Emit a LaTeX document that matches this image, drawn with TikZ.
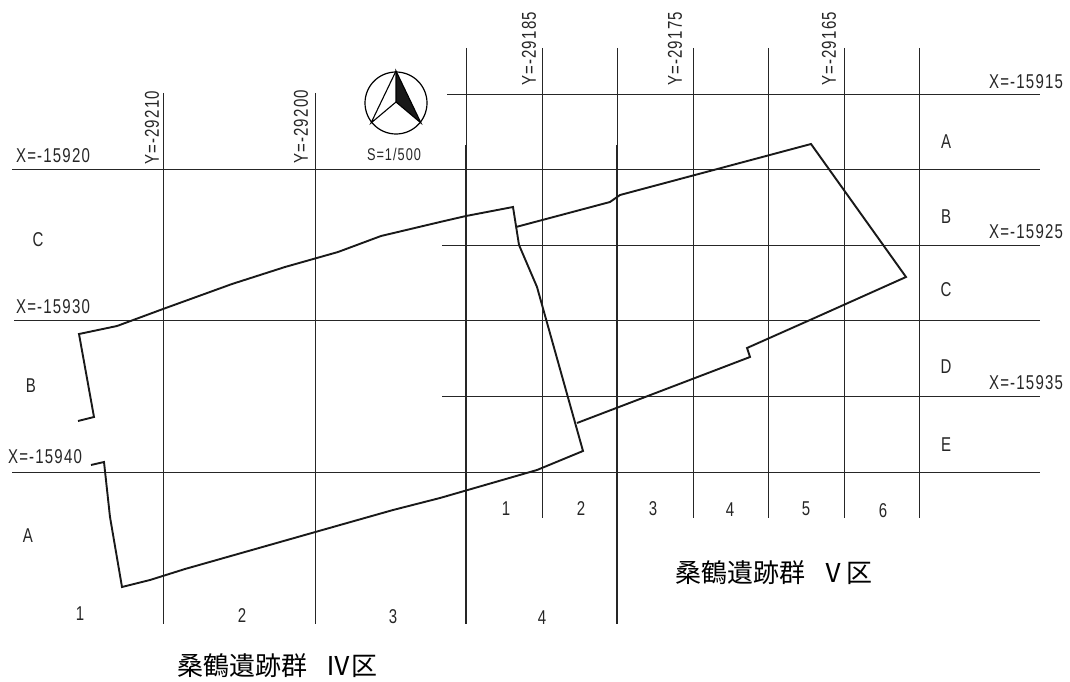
\documentclass[tikz,border=0pt]{standalone}
\usepackage{fontspec}
\setmainfont{Liberation Sans}
\newfontfamily\labelfont[FakeStretch=0.75,LetterSpace=6]{Liberation Sans}
\newfontfamily\titlefont{Noto Sans CJK JP}
\tikzstyle{gridline} = [draw, line width=0.9pt, color=black!85]
\tikzstyle{heavyline} = [draw, line width=1.05pt, color=black!85]
\tikzstyle{outline} = [draw, line width=1.9pt, color=black!90, line join=miter]
\tikzstyle{lab} = [inner sep=0pt, text=black!85, font=\labelfont\fontsize{20}{22}\selectfont]
\tikzstyle{ylab} = [lab, rotate=90]
\tikzstyle{title} = [inner sep=0pt, anchor=west, font=\titlefont\fontsize{26}{28}\selectfont]

\begin{document}
\begin{tikzpicture}[x=1pt,y=-1pt]
    \useasboundingbox (0,0) rectangle (1070,682);
    % Horizontal grid lines
    \draw [gridline] (12,169) -- (1040,169);
    \draw [gridline] (14,320) -- (1040,320);
    \draw [gridline] (12,472) -- (1040,472);
    \draw [gridline] (447,94) -- (1040,94);
    \draw [gridline] (442,245) -- (1040,245);
    \draw [gridline] (442,396) -- (1040,396);
    % Vertical grid lines
    \draw [gridline] (163,93) -- (163,624);
    \draw [gridline] (315,93) -- (315,624);
    \draw [gridline] (466,48) -- (466,145);
    \draw [heavyline] (466,145) -- (466,624);
    \draw [gridline] (542,48) -- (542,518);
    \draw [gridline] (617,48) -- (617,145);
    \draw [heavyline] (617,145) -- (617,624);
    \draw [gridline] (693,48) -- (693,518);
    \draw [gridline] (768,48) -- (768,518);
    \draw [gridline] (844,48) -- (844,518);
    \draw [gridline] (919,48) -- (919,518);
    % Outline of area IV
    \draw [outline] (78,421) -- (94,417) -- (79,334) -- (117,326) -- (163,309)
        -- (232,284) -- (285,267) -- (338,252) -- (381,236) -- (440,222)
        -- (466,216) -- (513,207) -- (519,245) -- (537,287) -- (583,451)
        -- (537,470) -- (440,498) -- (393,510) -- (340,525) -- (185,569)
        -- (150,580) -- (122,587) -- (110,517) -- (104,462) -- (91,465);
    % Outline of area V
    \draw [outline] (516,227) -- (610,202) -- (620,195) -- (811,144) -- (906,277)
        -- (810,320) -- (747,348) -- (750,357) -- (577,423);
    % North mark
    \draw [line width=1.2pt] (396,103) circle (31);
    \draw [line width=1.1pt] (396,71) -- (371,123) -- (396,102);
    \draw [line width=1.1pt, fill=black!90] (396,71) -- (396,102) -- (421,123) -- cycle;
    \node [lab, font=\labelfont\fontsize{17}{19}\selectfont] (scale) at (394,154) {S=1/500};
    % Grid coordinates
    \node [lab] (xa) at (53,156) {X=-15920};
    \node [lab] (xb) at (53,307) {X=-15930};
    \node [lab] (xc) at (45,457) {X=-15940};
    \node [lab] (xd) at (1026,82) {X=-15915};
    \node [lab] (xe) at (1026,232) {X=-15925};
    \node [lab] (xf) at (1026,383) {X=-15935};
    \node [ylab] (ya) at (152,128) {Y=-29210};
    \node [ylab] (yb) at (301,127) {Y=-29200};
    \node [ylab] (yc) at (529,49) {Y=-29185};
    \node [ylab] (yd) at (675,49) {Y=-29175};
    \node [ylab] (ye) at (829,49) {Y=-29165};
    % Row and column names, area IV
    \node [lab] (rowc) at (38,240) {C};
    \node [lab] (rowb) at (31,386) {B};
    \node [lab] (rowa) at (28,536) {A};
    \node [lab] (cola) at (80,614) {1};
    \node [lab] (colb) at (242,616) {2};
    \node [lab] (colc) at (393,617) {3};
    \node [lab] (cold) at (542,618) {4};
    % Row and column names, area V
    \node [lab] (rowva) at (946,142) {A};
    \node [lab] (rowvb) at (946,217) {B};
    \node [lab] (rowvc) at (946,290) {C};
    \node [lab] (rowvd) at (946,367) {D};
    \node [lab] (rowve) at (946,445) {E};
    \node [lab] (colva) at (506,509) {1};
    \node [lab] (colvb) at (581,509) {2};
    \node [lab] (colvc) at (653,509) {3};
    \node [lab] (colvd) at (730,510) {4};
    \node [lab] (colve) at (806,509) {5};
    \node [lab] (colvf) at (883,511) {6};
    % Titles
    \node [title] (titleiv) at (177,666) {桑鶴遺跡群\hspace{18pt}Ⅳ区};
    \node [title] (titlev) at (675,573) {桑鶴遺跡群\hspace{15pt}Ⅴ区};
\end{tikzpicture}
\end{document}
